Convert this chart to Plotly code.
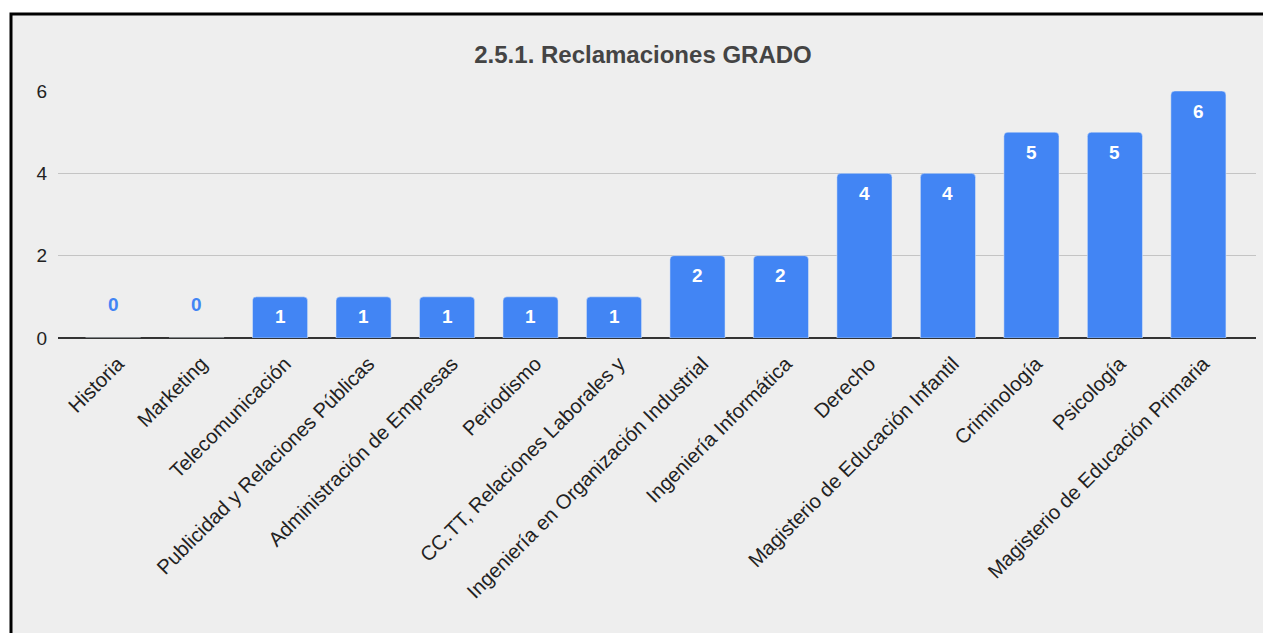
import plotly.graph_objects as go

categories = [
    "Historia", "Marketing", "Telecomunicación", "Publicidad y Relaciones Públicas",
    "Administración de Empresas", "Periodismo", "CC.TT, Relaciones Laborales y",
    "Ingeniería en Organización Industrial", "Ingeniería Informática", "Derecho",
    "Magisterio de Educación Infantil", "Criminología", "Psicología",
    "Magisterio de Educación Primaria",
]
values = [0, 0, 1, 1, 1, 1, 1, 2, 2, 4, 4, 5, 5, 6]
y_ticks = [0, 2, 4, 6]
title_text = "2.5.1. Reclamaciones GRADO"

BLUE = "#4285f4"
FONT = "Liberation Sans, Arial, sans-serif"

# page body has an 8px margin; figure is sized to fit inside the window
OFF = 8
W, H = 1271 - OFF, 633 - OFF
L, R = 58 - OFF, 15
T, B = 91 - OFF, H - (338 - OFF)
pw, ph = W - L - R, H - T - B

def px_to_paper_x(px):
    return (px - OFF - L) / pw

def px_to_paper_y(py):
    return (H - B - (py - OFF)) / ph

fig = go.Figure()
fig.add_trace(go.Bar(
    x=categories, y=values, marker_color=BLUE, width=0.66,
    hoverinfo="skip",
))

annotations = []
for c, v in zip(categories, values):
    annotations.append(dict(
        x=c, y=v, text=str(v), showarrow=False,
        xanchor="center", yanchor="middle",
        yshift=34 if v == 0 else -20,
        font=dict(family=FONT, size=19, color=BLUE if v == 0 else "white", weight="bold"),
    ))

fig.update_layout(
    width=W, height=H,
    margin=dict(l=L, r=R, t=T, b=B, autoexpand=False),
    paper_bgcolor="white",
    plot_bgcolor="rgba(0,0,0,0)",
    barcornerradius=4,
    showlegend=False,
    font=dict(family=FONT, size=19, color="#222222"),
    title=dict(
        text=title_text, x=(643 - OFF) / W, xanchor="center", xref="container",
        y=1 - (55 - OFF) / H, yanchor="middle", yref="container",
        font=dict(family=FONT, size=24, color="#444444", weight="bold"),
    ),
    xaxis=dict(
        range=[-0.66, 13.69], tickangle=-45, showgrid=False,
        tickfont=dict(family=FONT, size=20.3, color="#222222"),
        ticks="", showline=False, zeroline=False,
        ticklabelstandoff=9, ticklabelshift=5,
    ),
    yaxis=dict(
        range=[0, 6], tickvals=y_ticks, showgrid=True, gridcolor="#c4c4c4", gridwidth=1,
        zeroline=True, zerolinecolor="#333333", zerolinewidth=2,
        tickfont=dict(family=FONT, size=19, color="#222222"),
        ticks="", ticklabelstandoff=10, showline=False, fixedrange=True,
    ),
    annotations=annotations,
    shapes=[dict(
        type="rect", xref="paper", yref="paper", layer="below",
        x0=px_to_paper_x(11), x1=px_to_paper_x(1290),
        y0=px_to_paper_y(660), y1=px_to_paper_y(14),
        fillcolor="#eeeeee", line=dict(color="black", width=3),
    )],
)

fig.write_html("out.html")
